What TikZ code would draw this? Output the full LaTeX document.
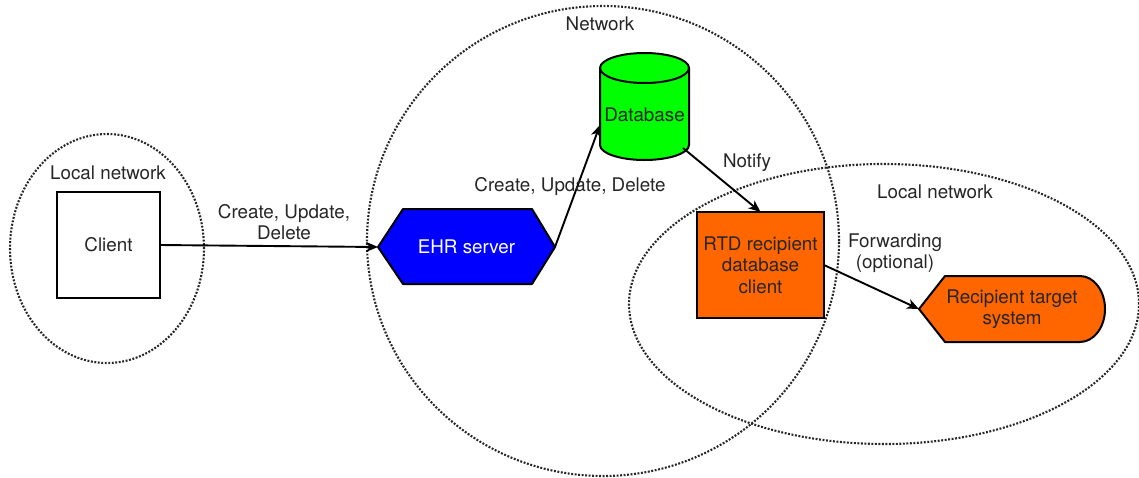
\documentclass[tikz,border=0pt]{standalone}
\usepackage{fontspec}
\setmainfont{TeX Gyre Heros}
\usetikzlibrary{arrows.meta,calc}
\definecolor{txt}{HTML}{262626}
\definecolor{orng}{HTML}{FF6600}
\definecolor{grn}{HTML}{00FF00}
\definecolor{blu}{HTML}{0000FF}
\tikzset{
  lbl/.style={font=\fontsize{18.8pt}{21.5pt}\selectfont, text=txt, align=center, inner sep=0pt},
  zone/.style={draw=black!85, line width=2.1pt, dash pattern=on 1.9pt off 1.6pt},
  shp/.style={draw=black, line width=2pt, line join=round},
  arr/.style={draw=black, line width=1.9pt, -{Stealth[length=12pt,width=10pt,inset=3.5pt]}},
}
\begin{document}
\begin{tikzpicture}[x=1pt,y=-1pt]
\fill[white] (0,0) rectangle (1139,477);
\useasboundingbox (0,0) rectangle (1139,477);
% zones
\draw[zone] (107,248.5) ellipse [x radius=97pt, y radius=114.5pt];
\draw[zone] (603,241) ellipse [x radius=236pt, y radius=235pt];
\draw[zone] (884,304) ellipse [x radius=255pt, y radius=140pt];
% shapes
\draw[shp, fill=blu] (378,247) -- (403,209) -- (532,209) -- (555,247) -- (532,284) -- (403,284) -- cycle;
\draw[shp, fill=grn] (600,68) -- (600,145) arc[start angle=180, end angle=360, x radius=44.5pt, y radius=15pt]
   -- (689,68) arc[start angle=0, end angle=180, x radius=44.5pt, y radius=15pt] -- cycle;
\draw[shp] (600,68) arc[start angle=180, end angle=360, x radius=44.5pt, y radius=15pt];
\draw[shp, fill=orng] (919,309) -- (945,276) -- (1080,276) arc[start angle=90, end angle=-90, x radius=25pt, y radius=33pt] -- (945,342) -- cycle;
% nodes
\node[lbl] (lnl) at (108,173) {Local network};
\node[lbl] (net) at (600,24) {Network};
\node[lbl] (lnr) at (935,192) {Local network};
\node[lbl, draw=black, line width=2pt, minimum width=103pt, minimum height=106pt, outer sep=0pt] (client) at (108.5,245) {Client};
\node[lbl, text=white, minimum width=177pt, minimum height=75pt, outer sep=0pt] (ehr) at (466.5,247) {EHR server};
\node[minimum width=89pt, minimum height=107pt, inner sep=0pt, outer sep=0pt] (db) at (644.5,106.5) {};
\node[lbl] (dbt) at (644.5,115) {Database};
\node[lbl, draw=black, fill=orng, line width=2pt, minimum width=127pt, minimum height=106pt, outer sep=0pt] (rtd) at (760.5,265) {RTD recipient\\database\\client};
\node[lbl, minimum width=186pt, minimum height=66pt, outer sep=0pt] (rec) at (1012,309) {Recipient target\\system};
% connectors
\draw[arr] (client.east) -- (ehr.west);
\draw[arr] (ehr.east) -- ($(db.west)+(0,18.5)$);
\draw[arr] ($(db.south east)+(-6,-12)$) -- (rtd.north);
\draw[arr] (rtd.east) -- (rec.west);
% connector labels
\node[lbl] (l1) at (284,222) {Create, Update,\\Delete};
\node[lbl] (l2) at (570,187) {Create, Update, Delete};
\node[lbl] (l3) at (747,163) {Notify};
\node[lbl] (l4) at (895,253) {Forwarding\\(optional)};
\end{tikzpicture}
\end{document}
